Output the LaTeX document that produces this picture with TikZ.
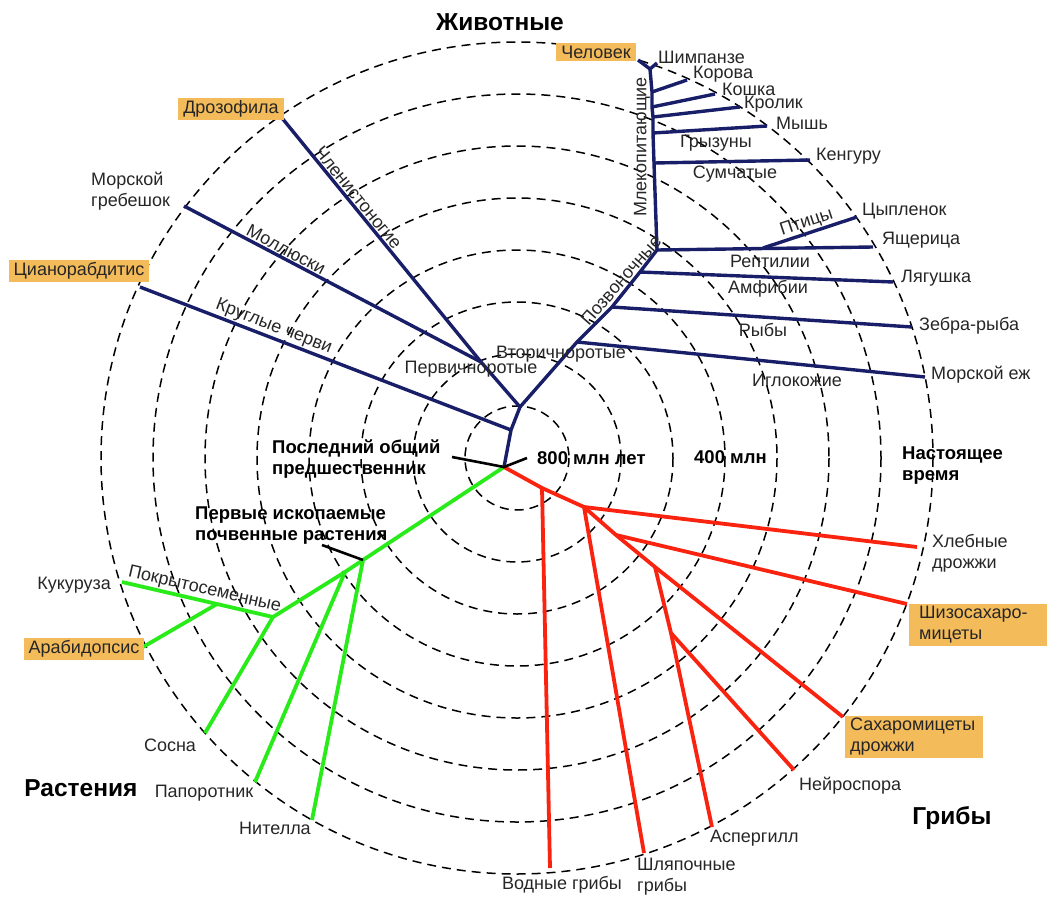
\documentclass[tikz,border=0pt]{standalone}
\usepackage{fontspec}
\setmainfont{Liberation Sans}
\usepackage{xcolor}
\definecolor{treeblue}{RGB}{25,30,105}
\definecolor{treegreen}{RGB}{40,235,25}
\definecolor{treered}{RGB}{250,35,15}
\definecolor{boxorange}{RGB}{243,187,90}

\begin{document}
\begin{tikzpicture}[x=1pt,y=-1pt,
		ring/.style={dash pattern=on 9pt off 6pt, line width=1.5pt},
		animal/.style={draw=treeblue, line width=3.4pt},
		plant/.style={draw=treegreen, line width=3.8pt},
		fungus/.style={draw=treered, line width=3.8pt},
		pointer/.style={draw=black, line width=2.6pt},
		lbl/.style={font=\fontsize{18}{21}\selectfont, inner sep=1pt, text=black!85},
		hl/.style={lbl, fill=boxorange, inner xsep=5pt, inner ysep=2.5pt},
		kingdom/.style={font=\fontsize{24.5}{27}\selectfont\bfseries},
		note/.style={font=\fontsize{18.5}{21}\selectfont\bfseries, align=left, inner sep=1pt}]

		\useasboundingbox (0,0) rectangle (1047,897);

		\coordinate (ctr) at (517,458);
		\foreach \r in {1,...,8}
			\draw[ring] (ctr) circle[radius=52*\r];

		\coordinate (root) at (504,467);

		\coordinate (worm) at (511,430);
		\coordinate (bil) at (520,407);
		\coordinate (prot) at (481,362);
		\coordinate (deut) at (577,342);
		\coordinate (fish) at (612,307);
		\coordinate (amph) at (640,272);
		\coordinate (amn) at (657,250);
		\coordinate (bird) at (763,248);
		\coordinate (prim) at (650,69);
		\coordinate (cowb) at (652,92);
		\coordinate (catb) at (652,107);
		\coordinate (rabb) at (653,117);
		\coordinate (rodb) at (653,133);
		\coordinate (marb) at (654,163);

		\coordinate (dros-end) at (282,118);
		\coordinate (greb-end) at (184,206);
		\coordinate (cian-end) at (140,287);
		\coordinate (human-end) at (638,60);
		\coordinate (chimp-end) at (657,63);
		\coordinate (cow-end) at (687,80);
		\coordinate (cat-end) at (715,94);
		\coordinate (rabbit-end) at (740,107);
		\coordinate (mouse-end) at (767,126);
		\coordinate (kang-end) at (810,160);
		\coordinate (chick-end) at (857,217);
		\coordinate (lizard-end) at (873,247);
		\coordinate (frog-end) at (893,282);
		\coordinate (zebra-end) at (912,327);
		\coordinate (urchin-end) at (925,377);

		\draw[animal] (root) -- (worm) -- (bil) -- (prot);
		\draw[animal] (bil) -- (deut) -- (fish) -- (amph) -- (amn) -- (marb) -- (rodb) -- (rabb) -- (catb) -- (cowb) -- (prim);
		\draw[animal] (cian-end) -- node[lbl, sloped, above, pos=0.35] (wormlbl) {Круглые черви} (worm);
		\draw[animal] (greb-end) -- node[lbl, sloped, above, pos=0.33] (moll) {Моллюски} (prot);
		\draw[animal] (dros-end) -- node[lbl, sloped, above, pos=0.35] (arthro) {Членистоногие} (prot);
		\draw[animal] (deut) -- (urchin-end);
		\draw[animal] (fish) -- (zebra-end);
		\draw[animal] (amph) -- (frog-end);
		\draw[animal] (amn) -- (lizard-end);
		\draw[animal] (bird) -- node[lbl, sloped, above, pos=0.5] (birds) {Птицы} (chick-end);
		\draw[animal] (marb) -- (kang-end);
		\draw[animal] (rodb) -- (mouse-end);
		\draw[animal] (rabb) -- (rabbit-end);
		\draw[animal] (catb) -- (cat-end);
		\draw[animal] (cowb) -- (cow-end);
		\draw[animal] (human-end) -- (prim) -- (chimp-end);
		\path (deut) -- node[lbl, sloped, above, pos=0.62] (vert) {Позвоночные} (amn);

		\coordinate (seed) at (363,560);
		\coordinate (vasc) at (345,572);
		\coordinate (angio) at (273,617);
		\coordinate (monodi) at (217,604);
		\coordinate (nitella-end) at (312,820);
		\coordinate (fern-end) at (255,782);
		\coordinate (pine-end) at (205,733);
		\coordinate (corn-end) at (122,582);
		\coordinate (arab-end) at (143,647);

		\draw[plant] (root) -- (seed) -- (vasc) -- (angio);
		\draw[plant] (seed) -- (nitella-end);
		\draw[plant] (vasc) -- (fern-end);
		\draw[plant] (angio) -- (pine-end);
		\draw[plant] (corn-end) -- node[lbl, sloped, above, pos=0.53] (angiolbl) {Покрытосеменные} (angio);
		\draw[plant] (monodi) -- (arab-end);

		\coordinate (chytr) at (542,488);
		\coordinate (yeastb) at (584,507);
		\coordinate (schizob) at (616,535);
		\coordinate (ascob) at (655,567);
		\coordinate (neurob) at (671,633);
		\coordinate (water-end) at (550,868);
		\coordinate (bread-end) at (917,547);
		\coordinate (mush-end) at (644,853);
		\coordinate (schizo-end) at (907,604);
		\coordinate (sacch-end) at (843,717);
		\coordinate (asperg-end) at (712,827);
		\coordinate (neuro-end) at (794,770);

		\draw[fungus] (root) -- (chytr) -- (yeastb) -- (schizob) -- (ascob) -- (sacch-end);
		\draw[fungus] (chytr) -- (water-end);
		\draw[fungus] (yeastb) -- (bread-end);
		\draw[fungus] (yeastb) -- (mush-end);
		\draw[fungus] (schizob) -- (schizo-end);
		\draw[fungus] (ascob) -- (neurob) -- (asperg-end);
		\draw[fungus] (neurob) -- (neuro-end);

		\coordinate (lca-tip) at (452,457);
		\coordinate (age-tip) at (527,458);
		\coordinate (soil-tip) at (322,545);
		\draw[pointer] (lca-tip) -- (root) -- (age-tip);
		\draw[pointer] (soil-tip) -- (seed);

		\node[kingdom] (animals) at (500,22) {Животные};
		\node[kingdom] (plants) at (81,788) {Растения};
		\node[kingdom] (fungi) at (952,818) {Грибы};

		\node[hl] (human) at (596,52) {Человек};
		\node[lbl, anchor=west] (chimp) at (657,57) {Шимпанзе};
		\node[lbl, anchor=west] (cow) at (692,74) {Корова};
		\node[lbl, anchor=west] (cat) at (721,89) {Кошка};
		\node[lbl, anchor=west] (rabbit) at (743,104) {Кролик};
		\node[lbl, anchor=west] (mouse) at (775,123) {Мышь};
		\node[lbl] (rodents) at (716,143) {Грызуны};
		\node[lbl] (marsup) at (735,174) {Сумчатые};
		\node[lbl, anchor=west] (kang) at (815,156) {Кенгуру};
		\node[lbl, rotate=90] (mammals) at (642,147) {Млекопитающие};
		\node[lbl, anchor=west] (chick) at (861,211) {Цыпленок};
		\node[lbl, anchor=west] (lizard) at (881,240) {Ящерица};
		\node[lbl] (rept) at (770,261) {Рептилии};
		\node[lbl, anchor=west] (frog) at (900,278) {Лягушка};
		\node[lbl] (amphlbl) at (768,289) {Амфибии};
		\node[lbl, anchor=west] (zebra) at (918,326) {Зебра-рыба};
		\node[lbl] (fishes) at (763,330) {Рыбы};
		\node[lbl, anchor=west] (urchin) at (930,375) {Морской еж};
		\node[lbl] (echin) at (797,380) {Иглокожие};
		\node[lbl] (protlbl) at (471,369) {Первичноротые};
		\node[lbl] (deutlbl) at (561,354) {Вторичноротые};
		\node[hl] (dros) at (231,109) {Дрозофила};
		\node[lbl, anchor=west, align=left] (greb) at (90,191) {Морской\\гребешок};
		\node[hl] (cian) at (79,271) {Цианорабдитис};

		\node[note, anchor=west] (lca) at (271,459) {Последний общий\\предшественник};
		\node[note, anchor=west] (age800) at (536,458) {800 млн лет};
		\node[note, anchor=west] (age400) at (693,457) {400 млн};
		\node[note, anchor=west] (today) at (901,466) {Настоящее\\время};
		\node[note, anchor=west] (soil) at (194,526) {Первые ископаемые\\почвенные растения};

		\node[lbl, anchor=east] (corn) at (112,585) {Кукуруза};
		\node[hl] (arab) at (84,649) {Арабидопсис};
		\node[lbl] (pine) at (170,745) {Сосна};
		\node[lbl] (fern) at (204,793) {Папоротник};
		\node[lbl] (nitella) at (275,828) {Нителла};

		\node[lbl, anchor=west, align=left] (bread) at (931,553) {Хлебные\\дрожжи};
		\node[hl, anchor=west, text width=118pt, inner xsep=10pt] (schizo) at (909,625) {Шизосахаро-\\мицеты};
		\node[hl, anchor=west, text width=128pt, inner xsep=5pt] (sacch) at (845,737) {Сахаромицеты\\дрожжи};
		\node[lbl, anchor=west] (neuro) at (798,786) {Нейроспора};
		\node[lbl, anchor=west] (asperg) at (709,838) {Аспергилл};
		\node[lbl, anchor=west, align=left] (mush) at (636,877) {Шляпочные\\грибы};
		\node[lbl] (water) at (562,885) {Водные грибы};
	\end{tikzpicture}
\end{document}
